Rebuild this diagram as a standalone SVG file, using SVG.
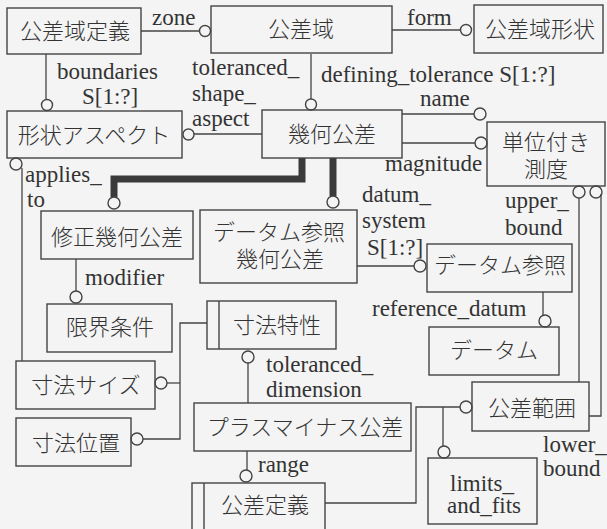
<svg xmlns="http://www.w3.org/2000/svg" width="607" height="529" viewBox="0 0 607 529">
<style>
.bx{fill:none;stroke:#444;stroke-width:1.4}
.ln{fill:none;stroke:#444;stroke-width:1.3}
.th{fill:none;stroke:#3a3a3a;stroke-width:7;stroke-linejoin:miter}
.ci{fill:#f4f4f4;stroke:#444;stroke-width:1.4}
.jp{font-family:"Noto Sans CJK JP","Liberation Serif",sans-serif;font-size:22px;font-weight:300;fill:#333;text-anchor:middle}
.lb{font-family:"Liberation Serif",serif;font-size:23px;fill:#333}
</style>
<rect x="0" y="0" width="607" height="529" fill="#f4f4f4"/>
<g id="connectors">
  <line class="ln" x1="141" y1="31" x2="199" y2="31"/>
  <circle class="ci" cx="205" cy="31" r="5.5"/>
  <line class="ln" x1="392" y1="30" x2="460" y2="30"/>
  <circle class="ci" cx="466" cy="30" r="5.5"/>
  <line class="ln" x1="46" y1="54" x2="46" y2="99"/>
  <circle class="ci" cx="47" cy="105" r="5.5"/>
  <line class="ln" x1="311" y1="54" x2="311" y2="99"/>
  <circle class="ci" cx="311" cy="104.5" r="5.5"/>
  <line class="ln" x1="262" y1="134" x2="194" y2="134"/>
  <circle class="ci" cx="188.5" cy="134.5" r="5.5"/>
  <line class="ln" x1="402" y1="114" x2="474" y2="114"/>
  <circle class="ci" cx="480" cy="114" r="6"/>
  <line class="ln" x1="402" y1="143" x2="475" y2="143"/>
  <circle class="ci" cx="481" cy="143" r="6"/>
  <polyline class="th" points="302,158 302,179 114,179 114,197"/>
  <circle class="ci" cx="114" cy="203" r="6"/>
  <line class="th" x1="333" y1="158" x2="333" y2="196"/>
  <circle class="ci" cx="333" cy="202" r="6"/>
  <line class="ln" x1="76" y1="259" x2="76" y2="291"/>
  <circle class="ci" cx="76" cy="297" r="6"/>
  <line class="ln" x1="357" y1="266" x2="414" y2="266"/>
  <circle class="ci" cx="420" cy="266" r="6"/>
  <line class="ln" x1="543" y1="292" x2="543" y2="315"/>
  <circle class="ci" cx="545" cy="321" r="6"/>
  <circle class="ci" cx="579" cy="192" r="6"/>
  <circle class="ci" cx="596" cy="192" r="6"/>
  <line class="ln" x1="579" y1="198" x2="579" y2="382"/>
  <polyline class="ln" points="601,194 601,416 589,416"/>
  <polyline class="ln" points="325,503 416,503 416,407 460,407"/>
  <circle class="ci" cx="466" cy="407" r="6"/>
  <line class="ln" x1="443" y1="407" x2="443" y2="446"/>
  <circle class="ci" cx="444" cy="452" r="6"/>
  <line class="ln" x1="247" y1="451" x2="247" y2="470"/>
  <circle class="ci" cx="246" cy="476" r="6"/>
  <circle class="ci" cx="248" cy="357" r="6"/>
  <line class="ln" x1="248" y1="363" x2="248" y2="403"/>
  <circle class="ci" cx="16" cy="164" r="6"/>
  <line class="ln" x1="22" y1="168" x2="22" y2="361"/>
  <polyline class="ln" points="207,323 180,323 180,439 143,439"/>
  <line class="ln" x1="167" y1="383" x2="180" y2="383"/>
  <circle class="ci" cx="161" cy="383" r="6"/>
  <circle class="ci" cx="137" cy="439" r="6"/>
  <text class="lb" x="152" y="25">zone</text>
  <text class="lb" x="407" y="25">form</text>
  <text class="lb" x="57" y="79">boundaries</text>
  <text class="lb" x="82" y="104">S[1:?]</text>
  <text class="lb" x="192" y="75">toleranced_</text>
  <text class="lb" x="192" y="101">shape_</text>
  <text class="lb" x="192" y="126">aspect</text>
  <text class="lb" x="321" y="82">defining_tolerance S[1:?]</text>
  <text class="lb" x="420" y="106">name</text>
  <text class="lb" x="385" y="171">magnitude</text>
  <text class="lb" x="25" y="182">applies_</text>
  <text class="lb" x="27" y="207">to</text>
  <text class="lb" x="362" y="202">datum_</text>
  <text class="lb" x="362" y="228">system</text>
  <text class="lb" x="367" y="255">S[1:?]</text>
  <text class="lb" x="505" y="208">upper_</text>
  <text class="lb" x="505" y="235">bound</text>
  <text class="lb" x="85" y="285">modifier</text>
  <text class="lb" x="372" y="316">reference_datum</text>
  <text class="lb" x="266" y="372">toleranced_</text>
  <text class="lb" x="266" y="397">dimension</text>
  <text class="lb" x="258" y="472">range</text>
  <text class="lb" x="543" y="452">lower_</text>
  <text class="lb" x="543" y="476">bound</text>
</g>
<g id="kousaiki-teigi"><rect class="bx" x="7" y="8" width="134" height="46"/><text class="jp" x="75" y="39" font-size="23">公差域定義</text></g>
<g id="kousaiki"><rect class="bx" x="211" y="6" width="181" height="47"/><text class="jp" x="301" y="37">公差域</text></g>
<g id="kousaiki-keijou"><rect class="bx" x="474" y="5" width="129" height="48"/><text class="jp" x="540" y="37">公差域形状</text></g>
<g id="keijou-aspect"><rect class="bx" x="7" y="111" width="175" height="47"/><text class="jp" x="94" y="143">形状アスペクト</text></g>
<g id="kika-kousa"><rect class="bx" x="262" y="110" width="140" height="48"/><text class="jp" x="332" y="142">幾何公差</text></g>
<g id="tani-sokudo"><rect class="bx" x="487" y="122" width="118" height="64"/><text class="jp" x="546" y="150">単位付き</text><text class="jp" x="546" y="177">測度</text></g>
<g id="shusei-kika"><rect class="bx" x="41" y="211" width="152" height="48"/><text class="jp" x="117" y="245">修正幾何公差</text></g>
<g id="datum-kika"><rect class="bx" x="200" y="210" width="157" height="73"/><text class="jp" x="279" y="240">データム参照</text><text class="jp" x="280" y="267">幾何公差</text></g>
<g id="datum-sansho"><rect class="bx" x="427" y="244" width="145" height="48"/><text class="jp" x="500" y="273">データム参照</text></g>
<g id="genkai-jouken"><rect class="bx" x="47" y="304" width="125" height="48"/><text class="jp" x="110" y="335">限界条件</text></g>
<g id="sunpou-tokusei"><rect class="bx" x="207" y="301" width="129" height="48"/><line class="bx" x1="219" y1="301" x2="219" y2="349"/><text class="jp" x="277" y="333">寸法特性</text></g>
<g id="datum"><rect class="bx" x="429" y="327" width="130" height="48"/><text class="jp" x="494" y="358">データム</text></g>
<g id="sunpou-size"><rect class="bx" x="16" y="361" width="139" height="48"/><text class="jp" x="86" y="393">寸法サイズ</text></g>
<g id="sunpou-ichi"><rect class="bx" x="16" y="418" width="115" height="48"/><text class="jp" x="76" y="451">寸法位置</text></g>
<g id="plusminus"><rect class="bx" x="194" y="403" width="217" height="48"/><text class="jp" x="305" y="435">プラスマイナス公差</text></g>
<g id="kousa-hani"><rect class="bx" x="472" y="382" width="117" height="49"/><text class="jp" x="532" y="416">公差範囲</text></g>
<g id="limits-fits"><rect class="bx" x="428" y="458" width="109" height="66"/><text class="lb" x="482" y="491" text-anchor="middle">limits_</text><text class="lb" x="484" y="513" text-anchor="middle">and_fits</text></g>
<g id="kousa-teigi"><rect class="bx" x="192" y="483" width="133" height="60"/><line class="bx" x1="204" y1="483" x2="204" y2="529"/><text class="jp" x="265" y="513">公差定義</text></g>
</svg>
